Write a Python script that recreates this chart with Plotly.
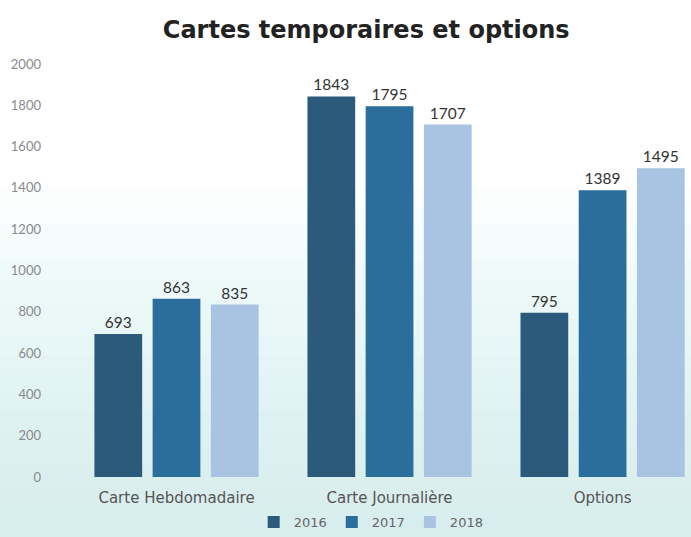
import plotly.graph_objects as go

categories = ["Carte Hebdomadaire", "Carte Journalière", "Options"]
years = ["2016", "2017", "2018"]
values_2016 = [693, 1843, 795]
values_2017 = [863, 1795, 1389]
values_2018 = [835, 1707, 1495]
y_ticks = [0, 200, 400, 600, 800, 1000, 1200, 1400, 1600, 1800, 2000]

series = [values_2016, values_2017, values_2018]
colors = ["#2b5a7b", "#2b6d9b", "#a9c4e2"]

FONT = "Lato"
WIDE = "DejaVu Sans"

fig = go.Figure()
for name, vals, col in zip(years, series, colors):
    fig.add_trace(go.Bar(
        x=categories, y=vals, name=name,
        marker=dict(color=col, line=dict(width=0)),
        text=[str(v) for v in vals], textposition="outside",
        textfont=dict(family=FONT, size=15.5, color="#333333"),
        cliponaxis=False,
    ))

# soft bluish background gradient toward the bottom
bands = 20
for i in range(bands):
    fig.add_shape(type="rect", xref="paper", yref="paper",
                  x0=-0.2, x1=1.05, y0=-0.2, y1=0.7 - i * 0.045,
                  fillcolor="#cfe9f6", opacity=0.06, line_width=0, layer="below")

fig.update_layout(
    width=691, height=537,
    paper_bgcolor="white", plot_bgcolor="rgba(0,0,0,0)",
    margin=dict(l=70, r=0, t=64, b=59),
    title=dict(text="<b>Cartes temporaires et options</b>", x=0.53, xanchor="center",
               y=0.945, yanchor="middle",
               font=dict(family=WIDE, size=24, color="#222222")),
    barmode="group", bargap=0.18, bargroupgap=0.18,
    xaxis=dict(range=[-0.5, 2.415], showgrid=False, showline=False, zeroline=False,
               tickfont=dict(family=WIDE, size=15, color="#555555"), ticks="",
               ticklabelstandoff=10),
    yaxis=dict(range=[0, 2000], tickvals=y_ticks, showgrid=False, showline=False,
               zeroline=False, tickfont=dict(family=FONT, size=13, color="#8a8a8a"),
               ticks="", ticklabelstandoff=28),
    legend=dict(orientation="h", x=0.485, xanchor="center", y=-0.11, yanchor="middle",
                font=dict(family=WIDE, size=13, color="#666666"),
                bgcolor="rgba(0,0,0,0)", itemwidth=30),
    showlegend=True,
)

fig.write_html("out.html", config={"displayModeBar": False},
               post_script="document.body.style.margin='0';")
